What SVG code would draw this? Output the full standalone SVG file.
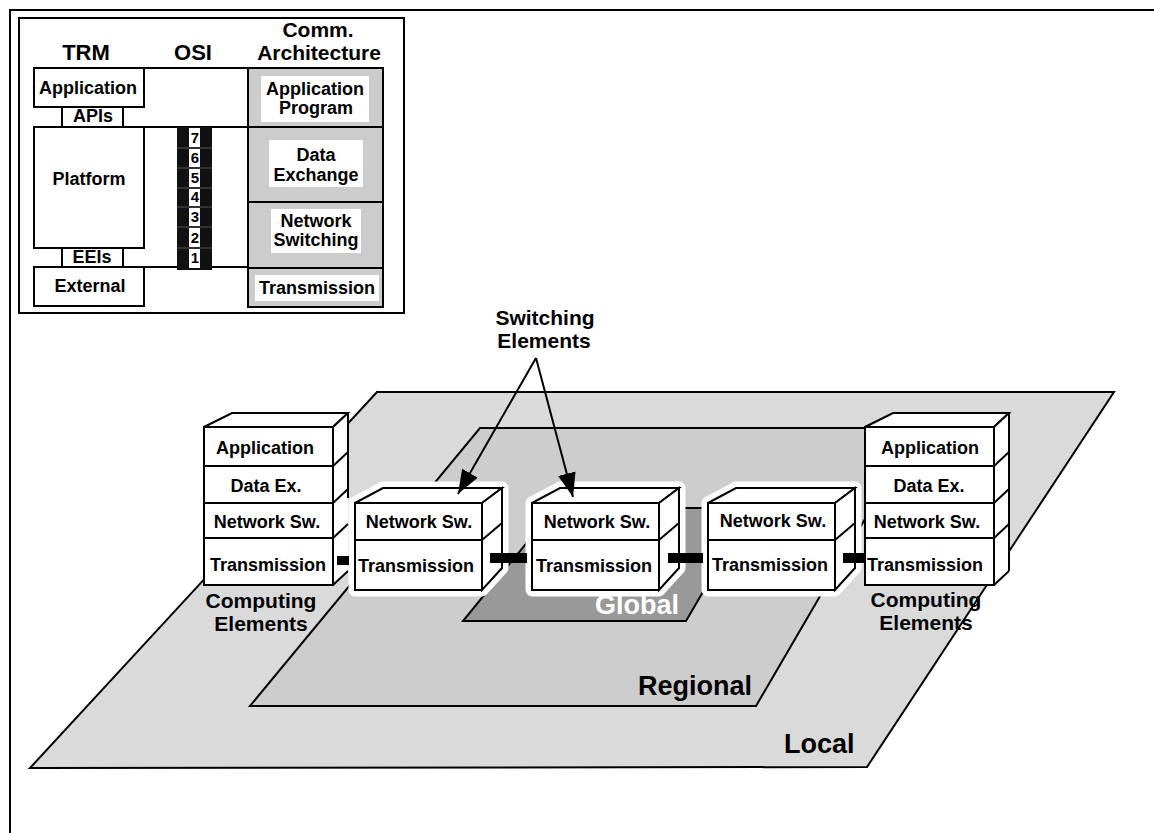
<svg xmlns="http://www.w3.org/2000/svg" xmlns:xlink="http://www.w3.org/1999/xlink" width="1154" height="833" viewBox="0 0 1154 833">
  <style>
    .ln { stroke: #000; stroke-width: 2; fill: none; }
    .wf { fill: #fff; stroke: #000; stroke-width: 2; stroke-linejoin: miter; }
    .gf { fill: #cccccc; stroke: #000; stroke-width: 2; }
    .halo { fill: #fff; stroke: #fff; stroke-width: 13; stroke-linejoin: round; }
    .t { font-family: "Liberation Sans", Arial, Helvetica, sans-serif; font-weight: bold; text-anchor: middle; fill: #000; }
    .s18 { font-size: 18px; }
    .s15 { font-size: 15px; }
    .s21 { font-size: 21px; }
    .s22 { font-size: 22px; }
    .big { font-size: 27px; text-anchor: start; }
    .bar { fill: #000; }
  </style>
  <defs>
    <marker id="head" markerUnits="userSpaceOnUse" markerWidth="26" markerHeight="20" refX="24" refY="9" orient="auto">
      <path d="M0,0 L24,9 L0,18 Z" fill="#000"/>
    </marker>
    <!-- switching element block: top face, side face, two-layer front -->
    <g id="swbox">
      <path class="halo" d="M355,503 L383,488 L502,488 L502,568 L482,590 L355,590 Z"/>
      <polygon class="wf" points="355,503 383,488 502,488 482,503"/>
      <polygon class="wf" points="482,503 502,488 502,568 482,590"/>
      <rect class="wf" x="355" y="503" width="127" height="87"/>
      <line class="ln" x1="355" y1="540" x2="482" y2="540"/>
      <line class="ln" x1="482" y1="540" x2="502" y2="523"/>
    </g>
    <!-- computing element stack: four layers -->
    <g id="cstack">
      <polygon class="wf" points="204,427 232,413 348,413 333,427"/>
      <polygon fill="#fff" stroke="none" points="333,427 348,413 348,571 333,585"/>
      <line class="ln" x1="333" y1="427" x2="348" y2="413"/>
      <line class="ln" x1="333" y1="585" x2="348" y2="571"/>
      <rect class="wf" x="204" y="427" width="129" height="158"/>
      <line class="ln" x1="204" y1="466" x2="333" y2="466"/>
      <line class="ln" x1="204" y1="503" x2="333" y2="503"/>
      <line class="ln" x1="204" y1="538" x2="333" y2="538"/>
      <line class="ln" x1="333" y1="466" x2="348" y2="452"/>
      <line class="ln" x1="333" y1="503" x2="348" y2="489"/>
      <line class="ln" x1="333" y1="538" x2="348" y2="524"/>
    </g>
  </defs>

  <rect width="1154" height="833" fill="#fff"/>
  <!-- page frame -->
  <rect x="10" y="10" width="1160" height="840" fill="none" stroke="#000" stroke-width="2"/>

  <!-- reference model inset -->
  <g id="inset">
    <rect x="19" y="18" width="385" height="295" fill="#fff" stroke="#000" stroke-width="2"/>
    <text class="t s22" x="86" y="60">TRM</text>
    <text class="t s22" x="193" y="60">OSI</text>
    <text class="t s21" x="318" y="37">Comm.</text>
    <text class="t s21" x="319" y="60">Architecture</text>

    <line class="ln" x1="144" y1="68" x2="248" y2="68"/>
    <line class="ln" x1="144" y1="127" x2="248" y2="127"/>
    <line class="ln" x1="144" y1="267" x2="248" y2="267"/>
  </g>

  <g id="trm-application">
    <rect class="wf" x="34" y="68" width="110" height="39"/>
    <text class="t s18" x="88" y="94">Application</text>
  </g>
  <g id="trm-apis">
    <rect class="wf" x="62" y="107" width="61" height="20"/>
    <text class="t s18" x="93" y="122">APIs</text>
  </g>
  <g id="trm-platform">
    <rect class="wf" x="34" y="127" width="110" height="121"/>
    <text class="t s18" x="89" y="185">Platform</text>
  </g>
  <g id="trm-eeis">
    <rect class="wf" x="62" y="248" width="61" height="19"/>
    <text class="t s18" x="92" y="263">EEIs</text>
  </g>
  <g id="trm-external">
    <rect class="wf" x="34" y="267" width="110" height="39"/>
    <text class="t s18" x="90" y="292">External</text>
  </g>

  <g id="osi-layers">
    <rect x="177" y="127" width="35" height="143" fill="#111"/>
    <g fill="#fff">
      <rect x="189" y="128" width="11" height="19"/>
      <rect x="189" y="149" width="11" height="18"/>
      <rect x="189" y="169" width="11" height="18"/>
      <rect x="189" y="189" width="11" height="17"/>
      <rect x="189" y="208" width="11" height="18"/>
      <rect x="189" y="228" width="11" height="19"/>
      <rect x="189" y="249" width="11" height="19"/>
    </g>
    <g stroke="#555" stroke-width="1">
      <line x1="177" y1="148" x2="212" y2="148"/>
      <line x1="177" y1="168" x2="212" y2="168"/>
      <line x1="177" y1="188" x2="212" y2="188"/>
      <line x1="177" y1="207" x2="212" y2="207"/>
      <line x1="177" y1="227" x2="212" y2="227"/>
      <line x1="177" y1="248" x2="212" y2="248"/>
    </g>
    <text class="t s15" x="195" y="143">7</text>
    <text class="t s15" x="195" y="163">6</text>
    <text class="t s15" x="195" y="183">5</text>
    <text class="t s15" x="195" y="202">4</text>
    <text class="t s15" x="195" y="222">3</text>
    <text class="t s15" x="195" y="243">2</text>
    <text class="t s15" x="195" y="263">1</text>
  </g>

  <g id="comm-application">
    <rect class="gf" x="248" y="68" width="135" height="59"/>
    <rect x="261" y="76" width="108" height="46" fill="#fff"/>
    <text class="t s18" x="315" y="95">Application</text>
    <text class="t s18" x="316" y="114">Program</text>
  </g>
  <g id="comm-data">
    <rect class="gf" x="248" y="127" width="135" height="75"/>
    <rect x="269" y="140" width="94" height="47" fill="#fff"/>
    <text class="t s18" x="316" y="161">Data</text>
    <text class="t s18" x="316" y="181">Exchange</text>
  </g>
  <g id="comm-network">
    <rect class="gf" x="248" y="202" width="135" height="66"/>
    <rect x="271" y="209" width="90" height="44" fill="#fff"/>
    <text class="t s18" x="316" y="227">Network</text>
    <text class="t s18" x="316" y="246">Switching</text>
  </g>
  <g id="comm-transmission">
    <rect class="gf" x="248" y="268" width="135" height="39"/>
    <rect x="255" y="275" width="124" height="26" fill="#fff"/>
    <text class="t s18" x="317" y="294">Transmission</text>
  </g>

  <!-- network planes -->
  <g id="plane-local">
    <polygon points="377,392 1114,392 867,767 30,768" fill="#dadada" stroke="#000" stroke-width="2"/>
    <text class="t big" x="784" y="753">Local</text>
  </g>
  <g id="plane-regional">
    <polygon points="480,428 918,428 756,706 250,706" fill="#cdcdcd" stroke="#000" stroke-width="2"/>
    <text class="t big" x="638" y="695">Regional</text>
  </g>
  <g id="plane-global">
    <polygon points="555,508 752,508 686,621 463,621" fill="#999999" stroke="#000" stroke-width="2"/>
  </g>

  <!-- computing elements, left -->
  <g id="computing-left">
    <use xlink:href="#cstack" href="#cstack"/>
    <line class="ln" x1="348" y1="413" x2="348" y2="498"/>
    <text class="t s18" x="265" y="454">Application</text>
    <text class="t s18" x="266" y="492">Data Ex.</text>
    <text class="t s18" x="267" y="528">Network Sw.</text>
    <text class="t s18" x="268" y="571">Transmission</text>
    <text class="t s21" x="261" y="608">Computing</text>
    <text class="t s21" x="261" y="631">Elements</text>
  </g>

  <!-- switching elements -->
  <g id="switch-1">
    <use xlink:href="#swbox" href="#swbox"/>
    <text class="t s18" x="419" y="528">Network Sw.</text>
    <text class="t s18" x="416" y="572">Transmission</text>
  </g>
  <g id="switch-2">
    <use xlink:href="#swbox" href="#swbox" transform="translate(177,0)"/>
    <text class="t s18" x="597" y="528">Network Sw.</text>
    <text class="t s18" x="594" y="572">Transmission</text>
  </g>
  <g id="switch-3">
    <use xlink:href="#swbox" href="#swbox" transform="translate(353,0)"/>
    <text class="t s18" x="773" y="527">Network Sw.</text>
    <text class="t s18" x="770" y="571">Transmission</text>
  </g>

  <!-- computing elements, right -->
  <g id="computing-right">
    <use xlink:href="#cstack" href="#cstack" transform="translate(661,0)"/>
    <line class="ln" x1="1009" y1="413" x2="1009" y2="571"/>
    <text class="t s18" x="930" y="454">Application</text>
    <text class="t s18" x="929" y="492">Data Ex.</text>
    <text class="t s18" x="927" y="528">Network Sw.</text>
    <text class="t s18" x="925" y="571">Transmission</text>
    <text class="t s21" x="926" y="607">Computing</text>
    <text class="t s21" x="926" y="630">Elements</text>
  </g>

  <text class="t big" x="595" y="614" fill="#fff" style="fill:#fff">Global</text>

  <!-- links between elements and callout arrows -->
  <g id="connectors">
    <rect class="bar" x="337" y="556" width="12" height="9"/>
    <rect class="bar" x="490" y="553" width="37" height="10"/>
    <rect class="bar" x="668" y="553" width="35" height="10"/>
    <rect class="bar" x="843" y="553" width="22" height="10"/>
    <line class="ln" x1="536" y1="358" x2="458" y2="494" marker-end="url(#head)"/>
    <line class="ln" x1="536" y1="358" x2="573" y2="497" marker-end="url(#head)"/>
  </g>

  <g id="switching-label">
    <text class="t s21" x="545" y="325">Switching</text>
    <text class="t s21" x="544" y="348">Elements</text>
  </g>
</svg>
